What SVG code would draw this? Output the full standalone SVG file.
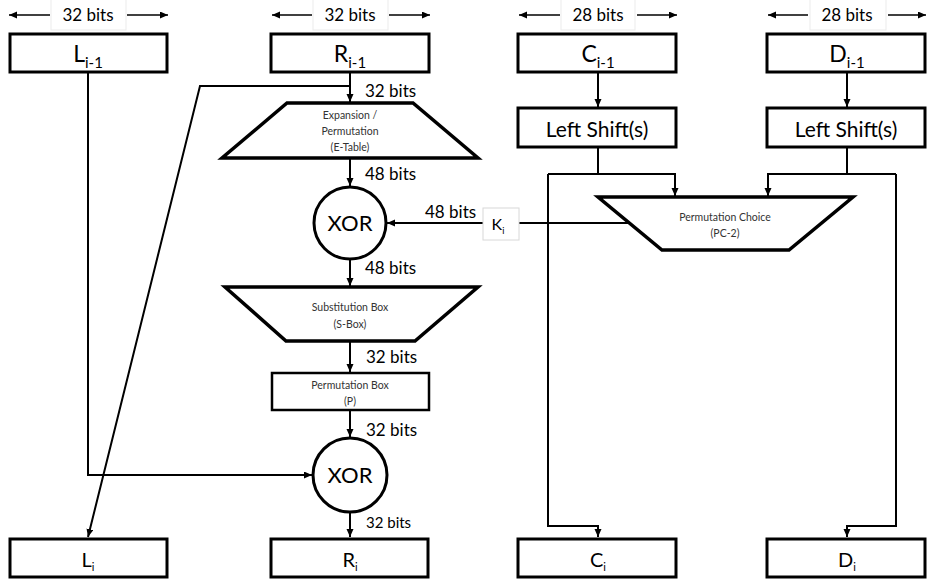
<svg xmlns="http://www.w3.org/2000/svg" width="927" height="580" viewBox="0 0 927 580">
  <style>
    .box { fill: #fff; stroke: #000; stroke-width: 3; }
    .trap { fill: #fff; stroke: #000; stroke-width: 3.5; stroke-linejoin: miter; }
    .circ { fill: #fff; stroke: #000; stroke-width: 3; }
    .wire { fill: none; stroke: #000; stroke-width: 2; }
    .dim { fill: none; stroke: #000; stroke-width: 1.5; }
    .tagbox { fill: #fff; stroke: #ebebeb; stroke-width: 1; }
    .big { font-family: Lato, "Liberation Sans", sans-serif; font-size: 23px; fill: #000; text-anchor: middle; }
    .mid { font-family: Lato, "Liberation Sans", sans-serif; font-size: 21px; fill: #000; text-anchor: middle; }
    .bits { font-family: Lato, "Liberation Sans", sans-serif; font-size: 17px; fill: #000; }
    .small { font-family: Lato, "Liberation Sans", sans-serif; font-size: 10.5px; fill: #333; text-anchor: middle; }
  </style>
  <defs>
    <marker id="arr" markerUnits="userSpaceOnUse" markerWidth="9" markerHeight="8" refX="8" refY="3.5" orient="auto">
      <path d="M0,0 L8,3.5 L0,7 z" fill="#000"/>
    </marker>
  </defs>

  <!-- width tags above the input registers -->
  <g id="width-tags">
    <rect class="tagbox" x="51" y="-3" width="75" height="33"/>
    <rect class="tagbox" x="313" y="-3" width="75" height="33"/>
    <rect class="tagbox" x="561" y="-3" width="74" height="33"/>
    <rect class="tagbox" x="810" y="-3" width="76" height="33"/>
    <path class="dim" d="M50,15 H9" marker-end="url(#arr)"/>
    <path class="dim" d="M127,15 H168" marker-end="url(#arr)"/>
    <path class="dim" d="M312,15 H272" marker-end="url(#arr)"/>
    <path class="dim" d="M389,15 H430" marker-end="url(#arr)"/>
    <path class="dim" d="M560,15 H519" marker-end="url(#arr)"/>
    <path class="dim" d="M637,15 H677" marker-end="url(#arr)"/>
    <path class="dim" d="M808,15 H768" marker-end="url(#arr)"/>
    <path class="dim" d="M888,15 H926" marker-end="url(#arr)"/>
    <text class="bits" x="88" y="21" text-anchor="middle">32 bits</text>
    <text class="bits" x="350" y="21" text-anchor="middle">32 bits</text>
    <text class="bits" x="598" y="21" text-anchor="middle">28 bits</text>
    <text class="bits" x="847" y="21" text-anchor="middle">28 bits</text>
  </g>

  <!-- connectors -->
  <g id="connectors">
    <path class="wire" d="M88,72 V475 H312" marker-end="url(#arr)"/>
    <path class="wire" d="M350,72 V102" marker-end="url(#arr)"/>
    <path class="wire" d="M350,86 H200 L88,537" marker-end="url(#arr)"/>
    <path class="wire" d="M350,158 V186" marker-end="url(#arr)"/>
    <path class="wire" d="M483,223 H387" marker-end="url(#arr)"/>
    <path class="wire" d="M630,223 H519"/>
    <path class="wire" d="M350,259 V286" marker-end="url(#arr)"/>
    <path class="wire" d="M350,341 V372" marker-end="url(#arr)"/>
    <path class="wire" d="M350,410 V437" marker-end="url(#arr)"/>
    <path class="wire" d="M350,512 V537" marker-end="url(#arr)"/>
    <path class="wire" d="M598,72 V107" marker-end="url(#arr)"/>
    <path class="wire" d="M847,72 V107" marker-end="url(#arr)"/>
    <path class="wire" d="M598,147 V174"/>
    <path class="wire" d="M548,174 H675 V196" marker-end="url(#arr)"/>
    <path class="wire" d="M548,174 V526 H598 V537" marker-end="url(#arr)"/>
    <path class="wire" d="M847,147 V174"/>
    <path class="wire" d="M896,174 H768 V196" marker-end="url(#arr)"/>
    <path class="wire" d="M896,174 V526 H847 V537" marker-end="url(#arr)"/>
  </g>

  <!-- bit-width labels on the round function path -->
  <g id="wire-labels">
    <text class="bits" x="365" y="97">32 bits</text>
    <text class="bits" x="365" y="180">48 bits</text>
    <text class="bits" x="425" y="218">48 bits</text>
    <text class="bits" x="365" y="274">48 bits</text>
    <text class="bits" x="366" y="363">32 bits</text>
    <text class="bits" x="366" y="436">32 bits</text>
    <text class="bits" x="366" y="528" style="font-size:15px">32 bits</text>
  </g>

  <g id="L-prev">
    <rect class="box" x="10" y="34" width="157" height="38"/>
    <text class="big" x="88" y="62">L<tspan dy="6" font-size="15">i-1</tspan></text>
  </g>
  <g id="R-prev">
    <rect class="box" x="271" y="34" width="158" height="38"/>
    <text class="big" x="350" y="62">R<tspan dy="6" font-size="15">i-1</tspan></text>
  </g>
  <g id="C-prev">
    <rect class="box" x="518" y="34" width="158" height="38"/>
    <text class="big" x="598" y="62">C<tspan dy="6" font-size="15">i-1</tspan></text>
  </g>
  <g id="D-prev">
    <rect class="box" x="767" y="34" width="158" height="38"/>
    <text class="big" x="847" y="62">D<tspan dy="6" font-size="15">i-1</tspan></text>
  </g>

  <g id="shift-C">
    <rect class="box" x="518" y="108" width="158" height="39"/>
    <text class="mid" x="597" y="137">Left Shift(s)</text>
  </g>
  <g id="shift-D">
    <rect class="box" x="767" y="108" width="158" height="39"/>
    <text class="mid" x="846" y="137">Left Shift(s)</text>
  </g>

  <g id="expansion">
    <polygon class="trap" points="287,103 413,103 478,158 222,158"/>
    <text class="small" x="350" y="119">Expansion /</text>
    <text class="small" x="350" y="135">Permutation</text>
    <text class="small" x="350" y="151">(E-Table)</text>
  </g>

  <g id="xor-key">
    <circle class="circ" cx="350" cy="223" r="36"/>
    <text class="big" x="350" y="231" style="font-size:22px">XOR</text>
  </g>

  <g id="round-key">
    <rect class="tagbox" x="483" y="208" width="36" height="32" style="stroke:#d8d8d8"/>
    <text class="mid" x="498" y="230" style="font-size:16px">K<tspan dy="4" font-size="9">i</tspan></text>
  </g>

  <g id="pc2">
    <polygon class="trap" points="598,197 853,197 789,250 662,250"/>
    <text class="small" x="725" y="221">Permutation Choice</text>
    <text class="small" x="725" y="237">(PC-2)</text>
  </g>

  <g id="sbox">
    <polygon class="trap" points="225,287 478,287 415,341 286,341"/>
    <text class="small" x="350" y="311">Substitution Box</text>
    <text class="small" x="350" y="328">(S-Box)</text>
  </g>

  <g id="pbox">
    <rect class="box" x="272" y="373" width="157" height="37" style="stroke-width:2.5"/>
    <text class="small" x="350" y="389">Permutation Box</text>
    <text class="small" x="350" y="405">(P)</text>
  </g>

  <g id="xor-left">
    <circle class="circ" cx="350" cy="475" r="37"/>
    <text class="big" x="350" y="483" style="font-size:22px">XOR</text>
  </g>

  <g id="L-next">
    <rect class="box" x="10" y="539" width="157" height="38"/>
    <text class="mid" x="88" y="567" style="font-size:20px">L<tspan dy="4" font-size="11">i</tspan></text>
  </g>
  <g id="R-next">
    <rect class="box" x="271" y="539" width="157" height="38"/>
    <text class="mid" x="350" y="567" style="font-size:20px">R<tspan dy="4" font-size="11">i</tspan></text>
  </g>
  <g id="C-next">
    <rect class="box" x="518" y="539" width="158" height="38"/>
    <text class="mid" x="598" y="567" style="font-size:20px">C<tspan dy="4" font-size="11">i</tspan></text>
  </g>
  <g id="D-next">
    <rect class="box" x="767" y="539" width="158" height="38"/>
    <text class="mid" x="847" y="567" style="font-size:20px">D<tspan dy="4" font-size="11">i</tspan></text>
  </g>
</svg>
